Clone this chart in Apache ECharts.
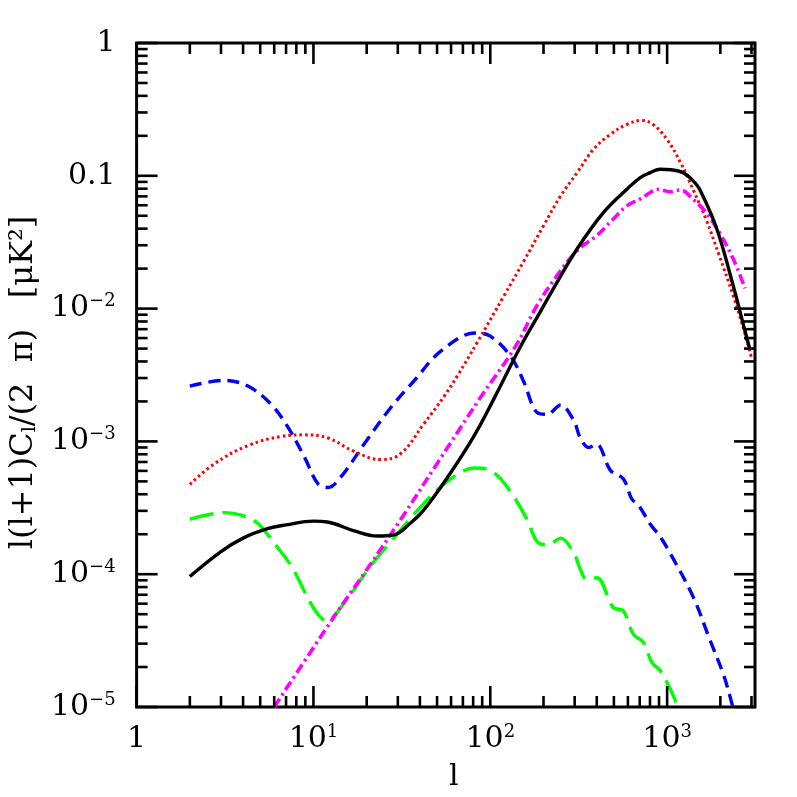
<!DOCTYPE html>
<html>
<head>
<meta charset="utf-8">
<script src="https://cdn.jsdelivr.net/npm/echarts@6.0.0/dist/echarts.min.js"></script>
<style>html,body{margin:0;padding:0;background:#fff}#c{width:797px;height:797px}</style>
</head>
<body>
<div id="c"></div>
<script>
// Axis ranges and ticks
const X_MIN = 1, X_MAX = 3140, Y_MIN = 1e-5, Y_MAX = 1;
const xMajorTicks = [1, 10, 100, 1000];
const yMajorTicks = [1e-5, 1e-4, 1e-3, 1e-2, 1e-1, 1];
const minorSteps = [2, 3, 4, 5, 6, 7, 8, 9];

// Black solid
const blackL = [2, 3, 4, 5.5, 7, 10, 12, 17, 23, 28.5, 35, 42, 57, 81, 105, 148.5, 192, 228, 310, 437, 592, 705, 803, 912, 1050, 1230, 1400, 1530, 1910, 2360, 2700, 2940];
const blackV = [9.6e-5, 1.48e-4, 1.87e-4, 2.2e-4, 2.35e-4, 2.51e-4, 2.47e-4, 2.12e-4, 1.94e-4, 1.98e-4, 2.4e-4, 3.04e-4, 5.3e-4, 1.1e-3, 2.1e-3, 5.2e-3, 9.5e-3, 0.0142, 0.0282, 0.053, 0.0793, 0.097, 0.1057, 0.112, 0.111, 0.1057, 0.092, 0.079, 0.0398, 0.015, 7.55e-3, 4.9e-3];

// Red dotted
const redL = [2, 2.76, 4.26, 6.6, 8.9, 12.1, 17, 24, 31, 42, 55, 65, 84.6, 119.5, 154, 200, 250, 310, 383, 475, 590, 718, 835, 1000, 1190, 1400, 1660, 1970, 2360, 2700, 3000];
const redV = [4.75e-4, 6.8e-4, 9.3e-4, 1.09e-3, 1.12e-3, 1.06e-3, 8.4e-4, 7.3e-4, 8.05e-4, 1.35e-3, 2.2e-3, 3.1e-3, 5.6e-3, 0.0125, 0.0225, 0.0421, 0.0706, 0.1057, 0.158, 0.204, 0.243, 0.261, 0.243, 0.187, 0.126, 0.079, 0.047, 0.0251, 0.0126, 7.1e-3, 4.25e-3];

// Blue short dashes
const blueL = [2, 3.15, 4.26, 5.77, 7.2, 8.9, 10.6, 12.1, 14.3, 19.4, 27.4, 37, 52.5, 82, 100, 130, 154, 184, 210, 250, 297, 322, 360, 400, 478, 565, 630, 690, 800, 912, 1040, 1400, 1740, 2090, 2300, 2350];
const blueV = [2.61e-3, 2.88e-3, 2.61e-3, 1.9e-3, 1.27e-3, 7.6e-4, 4.8e-4, 4.5e-4, 5.4e-4, 9.6e-4, 1.8e-3, 2.85e-3, 4.78e-3, 6.55e-3, 6.2e-3, 4.4e-3, 2.85e-3, 1.65e-3, 1.6e-3, 1.88e-3, 1.43e-3, 1.07e-3, 9.0e-4, 9.5e-4, 6.05e-4, 5.24e-4, 3.7e-4, 3.3e-4, 2.4e-4, 1.92e-4, 1.44e-4, 6.8e-5, 3.24e-5, 1.73e-5, 1.12e-5, 1.0e-5];

// Green long dashes
const greenL = [2, 3.15, 3.9, 4.85, 6.0, 7.5, 9.3, 10.6, 11.8, 14.95, 21, 27.4, 42, 60, 81, 96, 114, 136, 162, 184, 210, 250, 297, 322, 350, 400, 496, 565, 643, 735, 819, 912, 1040, 1150];
const greenV = [2.6e-4, 2.91e-4, 2.79e-4, 2.41e-4, 1.71e-4, 1.15e-4, 6.6e-5, 4.99e-5, 4.45e-5, 6.1e-5, 1.15e-4, 1.76e-4, 3.4e-4, 5.24e-4, 6.3e-4, 6.2e-4, 5.24e-4, 3.82e-4, 2.56e-4, 1.76e-4, 1.66e-4, 1.87e-4, 1.44e-4, 1.1e-4, 9.2e-5, 9.4e-5, 5.6e-5, 5.3e-5, 3.54e-5, 3.06e-5, 2.17e-5, 1.88e-5, 1.37e-5, 1.0e-5];

// Magenta dash-dot
const magentaL = [6, 13.1, 20, 31, 50, 88, 139, 184, 239, 310, 400, 496, 592, 700, 803, 873, 960, 1040, 1190, 1400, 1660, 1970, 2360, 2760];
const magentaV = [1e-5, 4.8e-5, 1.08e-4, 2.56e-4, 6.8e-4, 2.14e-3, 5.2e-3, 0.0106, 0.0178, 0.0274, 0.0355, 0.0473, 0.0594, 0.0667, 0.0748, 0.0793, 0.0775, 0.0757, 0.0783, 0.0667, 0.053, 0.0376, 0.0238, 0.0142];

function pairs(l, v) { return l.map((x, i) => [x, v[i]]); }

const FONT = 'DejaVu Serif';
const MAJOR_LEN = 21, MINOR_LEN = 11, TICK_W = 2.6;

const xTickData = [];
xMajorTicks.forEach(v => xTickData.push([v, Y_MIN, MAJOR_LEN]));
xMajorTicks.forEach(p => minorSteps.forEach(m => { const v = m * p; if (v < X_MAX) xTickData.push([v, Y_MIN, MINOR_LEN]); }));
const yTickData = [];
yMajorTicks.forEach(v => yTickData.push([X_MIN, v, MAJOR_LEN]));
yMajorTicks.forEach(p => minorSteps.forEach(m => { const v = m * p; if (v < Y_MAX) yTickData.push([X_MIN, v, MINOR_LEN]); }));

function renderXTick(params, api) {
  const v = api.value(0), len = api.value(2);
  const b = api.coord([v, Y_MIN]), t = api.coord([v, Y_MAX]);
  const st = { stroke: '#000', lineWidth: TICK_W };
  return { type: 'group', children: [
    { type: 'line', shape: { x1: b[0], y1: b[1], x2: b[0], y2: b[1] - len }, style: st },
    { type: 'line', shape: { x1: t[0], y1: t[1], x2: t[0], y2: t[1] + len }, style: st }
  ]};
}
function renderYTick(params, api) {
  const v = api.value(1), len = api.value(2);
  const l = api.coord([X_MIN, v]), r = api.coord([X_MAX, v]);
  const st = { stroke: '#000', lineWidth: TICK_W };
  return { type: 'group', children: [
    { type: 'line', shape: { x1: l[0], y1: l[1], x2: l[0] + len, y2: l[1] }, style: st },
    { type: 'line', shape: { x1: r[0], y1: r[1], x2: r[0] - len, y2: r[1] }, style: st }
  ]};
}

function fmtPow(v) {
  const lg = Math.log10(v), e = Math.round(lg);
  if (Math.abs(lg - e) > 1e-6) return '';
  if (e === 0) return '{b|1}';
  if (e === -1) return '{b|0.1}';
  return '{b|10}{s|' + (e < 0 ? '\u2212' + (-e) : e) + '}';
}
const rich = {
  b: { fontSize: 30, fontFamily: FONT, color: '#000', lineHeight: 32 },
  s: { fontSize: 18, fontFamily: FONT, color: '#000', verticalAlign: 'top', lineHeight: 18 }
};

const chart = echarts.init(document.getElementById('c'), null, { renderer: 'canvas' });
chart.setOption({
  animation: false,
  backgroundColor: '#fff',
  grid: { left: 135, top: 43, width: 620, height: 669, show: true, borderColor: '#000', borderWidth: 3, backgroundColor: 'transparent' },
  xAxis: {
    type: 'log', logBase: 10, min: X_MIN, max: X_MAX, splitNumber: 5,
    axisLine: { show: false }, axisTick: { show: false }, splitLine: { show: false },
    axisLabel: { formatter: fmtPow, rich: rich, margin: 16, showMaxLabel: false },
    name: 'l', nameLocation: 'middle', nameGap: 55,
    nameTextStyle: { fontSize: 30, fontFamily: FONT, color: '#000', padding: [0, 0, 0, 16] }
  },
  yAxis: {
    type: 'log', logBase: 10, min: Y_MIN, max: Y_MAX, splitNumber: 5,
    axisLine: { show: false }, axisTick: { show: false }, splitLine: { show: false },
    axisLabel: { formatter: fmtPow, rich: rich, margin: 21 },
    name: 'l(l+1)C{sub|l}/(2  \u03c0)   [\u03bcK\u00b2]', nameLocation: 'middle', nameGap: 96,
    nameTextStyle: {
      fontSize: 32, fontFamily: FONT, color: '#000', padding: [0, 15, 0, 0],
      rich: { sub: { fontSize: 19, fontFamily: FONT, color: '#000', verticalAlign: 'bottom', lineHeight: 19 } }
    }
  },
  series: [
    { type: 'line', data: pairs(blackL, blackV), showSymbol: false, smooth: 0.4, lineStyle: { color: '#000', width: 3.4 }, z: 5 },
    { type: 'line', data: pairs(redL, redV), showSymbol: false, smooth: 0.4, lineStyle: { color: '#ff0000', width: 3, type: [2.6, 3] }, z: 4 },
    { type: 'line', data: pairs(blueL, blueV), showSymbol: false, smooth: 0.35, lineStyle: { color: '#0000ff', width: 3.4, type: [12, 7] }, z: 3 },
    { type: 'line', data: pairs(greenL, greenV), showSymbol: false, smooth: 0.35, lineStyle: { color: '#00ff00', width: 3.4, type: [24, 9] }, z: 3 },
    { type: 'line', data: pairs(magentaL, magentaV), showSymbol: false, smooth: 0.35, lineStyle: { color: '#ff00ff', width: 3.6, type: [10, 4, 2.5, 4] }, z: 4 },
    { type: 'custom', data: xTickData, encode: { x: 0, y: 1 }, renderItem: renderXTick, silent: true, z: 10, clip: false },
    { type: 'custom', data: yTickData, encode: { x: 0, y: 1 }, renderItem: renderYTick, silent: true, z: 10, clip: false }
  ]
});
</script>
</body>
</html>
